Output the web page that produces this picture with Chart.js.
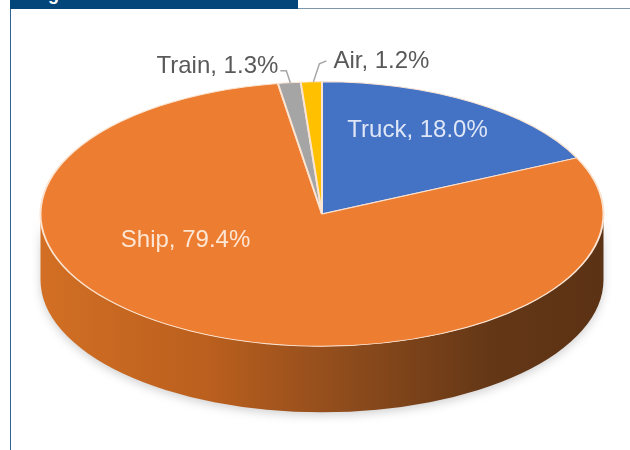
<!DOCTYPE html>
<html>
<head>
<meta charset="utf-8">
<script src="https://cdn.jsdelivr.net/npm/chart.js@4.4.1/dist/chart.umd.min.js"></script>
<style>
  html, body { margin: 0; padding: 0; background: #fff; }
  #wrap { position: relative; width: 630px; height: 450px; overflow: hidden; }
  #myChart { position: absolute; left: 0; top: 0; }
  #head {
    position: absolute; left: 10px; top: 0; width: 288px; height: 9px;
    background: #03467a; overflow: hidden;
  }
  #head span {
    position: absolute; left: 22px; top: -16px;
    font: bold 18px "Liberation Sans", Arial, sans-serif; color: #fff;
  }
  #topline { position: absolute; left: 298px; top: 8px; width: 332px; height: 1px; background: #7d97ad; }
  #leftline { position: absolute; left: 10px; top: 9px; width: 1px; height: 441px; background: #2f6496; }
</style>
</head>
<body>
<div id="wrap">
  <canvas id="myChart" width="630" height="450"></canvas>
  <div id="head"><span>Figure</span></div>
  <div id="topline"></div>
  <div id="leftline"></div>
</div>
<script>
const categories = ['Truck', 'Ship', 'Train', 'Air'];
const shares = [18.0, 79.4, 1.3, 1.2];
const sliceColors = ['#4472c4', '#ed7d31', '#a5a5a5', '#ffc000'];

// squash of the pie into an ellipse, and thickness of the disc
const SX = 1.32;
const SY = 0.62;
const DEPTH = 66;

const FONT = '24px "Liberation Sans", Arial, sans-serif';

const pie3d = {
    id: 'pie3d',
    beforeDatasetsDraw(chart) {
        const ctx = chart.ctx;
        const arc = chart.getDatasetMeta(0).data[0];
        const x = arc.x, y = arc.y, r = arc.outerRadius;
        const rx = r * SX, ry = r * SY;

        // side of the disc
        ctx.save();
        ctx.shadowColor = 'rgba(0, 0, 0, 0.18)';
        ctx.shadowBlur = 10;
        ctx.shadowOffsetY = 3;
        const g = ctx.createLinearGradient(x - rx, 0, x + rx, 0);
        g.addColorStop(0, '#d26f24');
        g.addColorStop(0.3, '#ba5f1e');
        g.addColorStop(0.55, '#8d4b1c');
        g.addColorStop(0.8, '#643716');
        g.addColorStop(1, '#5b3214');
        ctx.beginPath();
        ctx.ellipse(x, y + DEPTH, rx, ry, 0, 0, Math.PI, false);
        ctx.lineTo(x - rx, y);
        ctx.ellipse(x, y, rx, ry, 0, Math.PI, 0, true);
        ctx.closePath();
        ctx.fillStyle = g;
        ctx.fill();
        ctx.restore();

        // top face is the normal pie, squashed
        ctx.save();
        ctx.translate(x, y);
        ctx.scale(SX, SY);
        ctx.translate(-x, -y);
    },
    afterDatasetsDraw(chart) {
        const ctx = chart.ctx;
        ctx.restore();

        const meta = chart.getDatasetMeta(0);
        const pt = (arc, ang, f) => ({
            x: arc.x + Math.cos(ang) * arc.outerRadius * f * SX,
            y: arc.y + Math.sin(ang) * arc.outerRadius * f * SY
        });
        const mid = (arc) => (arc.startAngle + arc.endAngle) / 2;
        const lbl = (i) => categories[i] + ', ' + shares[i].toFixed(1) + '%';

        ctx.save();
        ctx.font = FONT;
        ctx.textBaseline = 'middle';
        ctx.textAlign = 'center';

        // inside labels
        let a = meta.data[0];
        let p = pt(a, mid(a) - 4.3 * Math.PI / 180, 0.72);
        ctx.fillStyle = '#dfe7f7';
        ctx.fillText(lbl(0), p.x, p.y);

        a = meta.data[1];
        p = pt(a, mid(a) + 39.5 * Math.PI / 180, 0.525);
        ctx.fillStyle = '#fde6d3';
        ctx.fillText(lbl(1), p.x, p.y);

        // outside labels with leader lines
        ctx.strokeStyle = '#a6a6a6';
        ctx.lineWidth = 1.5;
        ctx.fillStyle = '#595959';
        ctx.textBaseline = 'alphabetic';

        a = meta.data[2];
        p = pt(a, mid(a), 1.0);
        ctx.beginPath();
        ctx.moveTo(p.x + 1, p.y);
        ctx.lineTo(p.x - 3, p.y - 12);
        ctx.lineTo(p.x - 9, p.y - 12);
        ctx.stroke();
        ctx.textAlign = 'right';
        ctx.fillText(lbl(2), p.x - 11, p.y - 10);

        a = meta.data[3];
        p = pt(a, mid(a), 1.0);
        ctx.beginPath();
        ctx.moveTo(p.x + 2, p.y);
        ctx.lineTo(p.x + 8, p.y - 18);
        ctx.lineTo(p.x + 15, p.y - 21);
        ctx.stroke();
        ctx.textAlign = 'left';
        ctx.fillText(lbl(3), p.x + 22, p.y - 14);
        ctx.restore();
    }
};

const ctx = document.getElementById('myChart').getContext('2d');

const chart = new Chart(ctx, {
    type: 'pie',
    data: {
        labels: categories,
        datasets: [
            {
                data: shares,
                backgroundColor: sliceColors,
                borderColor: '#fbe4d2',
                borderWidth: 1.5,
                clip: false
            }
        ]
    },
    options: {
        responsive: false,
        animation: false,
        layout: {
            padding: { left: 14, right: 0, top: 0, bottom: 22 }
        },
        plugins: {
            legend: { display: false },
            tooltip: { enabled: false }
        }
    },
    plugins: [pie3d]
});
</script>
</body>
</html>
